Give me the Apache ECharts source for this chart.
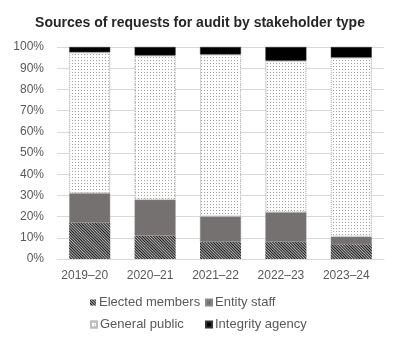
<!DOCTYPE html>
<html>
<head>
<meta charset="utf-8">
<script src="https://cdn.jsdelivr.net/npm/echarts@6/dist/echarts.min.js"></script>
<style>html,body{margin:0;padding:0;background:#fff}#c{width:400px;height:343px}</style>
</head>
<body>
<div id="c"></div>
<script>
const categories = ['2019–20', '2020–21', '2021–22', '2022–23', '2023–24'];
const electedMembers = [17, 11, 8, 8, 7];
const entityStaff = [14, 17, 12, 14, 3.5];
const generalPublic = [66.5, 68, 76.5, 71.5, 84.5];
const integrityAgency = [2.5, 4, 3.5, 6.5, 5];
const yTicks = [0, 10, 20, 30, 40, 50, 60, 70, 80, 90, 100];

const FONT = 'Liberation Sans, Arial, sans-serif';
const chart = echarts.init(document.getElementById('c'), null, {renderer: 'canvas'});

function legend(name, left, top) {
  return {
    data: [name], left: left, top: top, padding: 0,
    icon: 'rect', itemWidth: 6, itemHeight: 6,
    textStyle: {fontFamily: FONT, fontSize: 13, color: '#595959', padding: [0, 0, 0, -2]},
    selectedMode: false
  };
}

chart.setOption({
  animation: false,
  title: {
    text: 'Sources of requests for audit by stakeholder type',
    left: 'center', top: 11,
    textStyle: {fontFamily: FONT, fontSize: 14, fontWeight: 'bold', color: '#262626'}
  },
  legend: [
    legend('Elected members', 90, 296),
    legend('Entity staff', 205, 296),
    legend('General public', 90, 318),
    legend('Integrity agency', 205, 318)
  ],
  grid: {left: 57, right: 16, top: 47, bottom: 84, containLabel: false},
  xAxis: {
    type: 'category', data: categories,
    axisLine: {show: true, lineStyle: {color: '#d9d9d9'}},
    axisTick: {show: false},
    axisLabel: {interval: 0, fontFamily: FONT, fontSize: 12, color: '#595959', margin: 11, padding: [0, 10, 0, 0]}
  },
  yAxis: {
    type: 'value', min: 0, max: 100, interval: 10,
    axisLabel: {fontFamily: FONT, fontSize: 12, color: '#595959', margin: 13,
      formatter: v => yTicks.includes(v) ? v + '%' : ''},
    splitLine: {lineStyle: {color: '#d9d9d9', width: 1}},
    axisLine: {show: false}, axisTick: {show: false}
  },
  series: [
    {
      name: 'Elected members', type: 'bar', stack: 's', barWidth: 41, data: electedMembers,
      itemStyle: {color: '#b5b5b5', decal: {symbol: 'rect', symbolSize: 1, dashArrayX: [1, 0], dashArrayY: [1, 1], rotation: Math.PI / 4, color: '#1a1a1a'}}
    },
    {
      name: 'Entity staff', type: 'bar', stack: 's', barWidth: 41, data: entityStaff,
      itemStyle: {color: '#767171', borderColor: '#8c8888', borderWidth: 0.5}
    },
    {
      name: 'General public', type: 'bar', stack: 's', barWidth: 41, data: generalPublic,
      itemStyle: {color: '#ffffff', borderColor: '#bfbfbf', borderWidth: 1, borderType: 'dotted',
        decal: {symbol: 'rect', symbolSize: 1, dashArrayX: [1, 2], dashArrayY: [1, 2], color: '#a0a0a0'}}
    },
    {
      name: 'Integrity agency', type: 'bar', stack: 's', barWidth: 41, data: integrityAgency,
      itemStyle: {color: '#000000', borderColor: '#333', borderWidth: 0.5}
    }
  ]
});
</script>
</body>
</html>
